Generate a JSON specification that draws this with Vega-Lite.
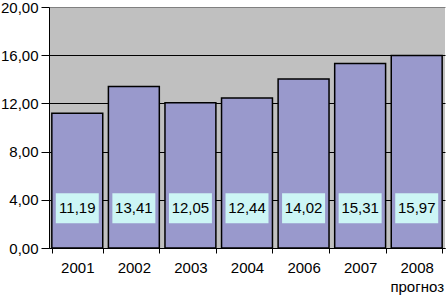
{
  "$schema": "https://vega.github.io/schema/vega-lite/v6.json",
  "autosize": {"type": "none"},
  "width": 396,
  "height": 241,
  "padding": {"left": 49, "top": 7, "right": 1, "bottom": 48},
  "background": "white",
  "config": {
    "locale": {"number": {"decimal": ",", "thousands": " ", "grouping": [3], "currency": ["", " ₽"]}},
    "view": {"fill": "#C0C0C0", "stroke": null},
    "font": "Liberation Sans"
  },
  "data": {"values": [
    {"year": "2001", "value": 11.19},
    {"year": "2002", "value": 13.41},
    {"year": "2003", "value": 12.05},
    {"year": "2004", "value": 12.44},
    {"year": "2006", "value": 14.02},
    {"year": "2007", "value": 15.31},
    {"year": "2008", "value": 15.97}
  ]},
  "encoding": {
    "x": {
      "field": "year", "type": "nominal", "sort": null,
      "scale": {"paddingInner": 0.1, "paddingOuter": 0.05},
      "axis": {
        "title": null, "labelAngle": 0, "labelFontSize": 15, "labelColor": "black",
        "labelFont": "Liberation Sans", "labelPadding": 7, "tickSize": 5, "tickBand": "extent",
        "domainColor": "black", "tickColor": "black", "grid": false,
        "labelExpr": "datum.value == '2008' ? ['2008', 'прогноз'] : datum.label",
        "labelLineHeight": 19
      }
    }
  },
  "layer": [
    {
      "mark": {"type": "bar", "fill": "#9999CC", "stroke": "black", "strokeWidth": 1.5},
      "encoding": {
        "y": {
          "field": "value", "type": "quantitative",
          "scale": {"domain": [0, 20], "nice": false},
          "axis": {
            "title": null, "values": [0, 4, 8, 12, 16, 20], "format": ".2f",
            "labelFontSize": 15, "labelColor": "black", "labelFont": "Liberation Sans",
            "tickSize": 8, "labelPadding": 3, "domainColor": "black", "tickColor": "black",
            "grid": true,
            "gridColor": {"condition": {"test": "datum.value == 20", "value": "#808080"}, "value": "black"},
            "gridOpacity": 1, "gridWidth": 1
          }
        }
      }
    },
    {
      "mark": {"type": "bar", "width": 43, "fill": "#CCF5F5", "stroke": null},
      "encoding": {
        "y": {"datum": 2.05, "type": "quantitative"},
        "y2": {"datum": 4.55}
      }
    },
    {
      "mark": {"type": "text", "fontSize": 15, "color": "black", "font": "Liberation Sans", "baseline": "middle"},
      "encoding": {
        "y": {"datum": 3.3, "type": "quantitative"},
        "text": {"field": "value", "type": "quantitative", "format": ".2f"}
      }
    }
  ]
}
